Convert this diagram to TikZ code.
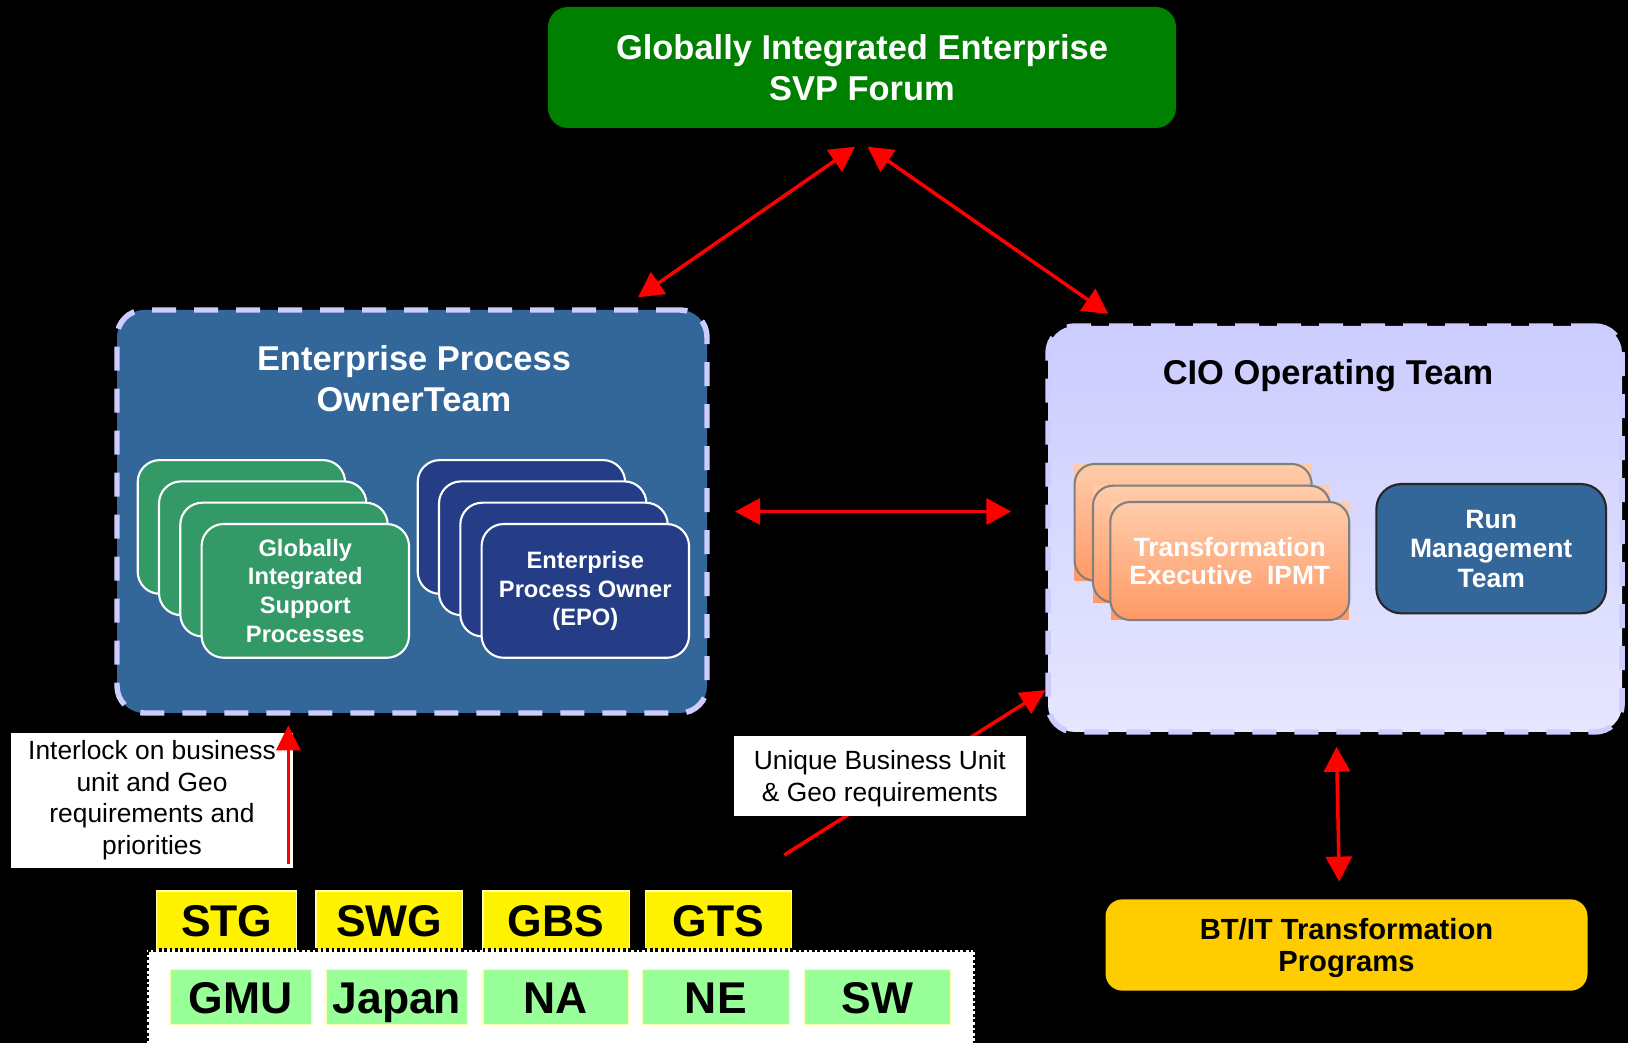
\documentclass[tikz,border=0pt]{standalone}
\usepackage{fontspec}
\setmainfont{Liberation Sans}
\usetikzlibrary{arrows.meta}

\definecolor{gieGreen}{RGB}{0,128,0}
\definecolor{steelBlue}{RGB}{51,102,153}
\definecolor{lavender}{RGB}{204,204,255}
\definecolor{lavenderPale}{RGB}{230,230,255}
\definecolor{cardGreen}{RGB}{51,153,102}
\definecolor{cardNavy}{RGB}{37,60,135}
\definecolor{peachTop}{RGB}{255,204,170}
\definecolor{peachBot}{RGB}{255,153,102}
\definecolor{gold}{RGB}{255,204,0}
\definecolor{mint}{RGB}{153,255,153}
\definecolor{paleYellow}{RGB}{255,255,170}

\tikzset{
  team/.style={rounded corners=0.27cm, draw=lavender, line width=1.56pt, dash pattern=on 0.24cm off 0.18cm, inner sep=0pt},
  heading/.style={font=\fontsize{9.8pt}{11.7pt}\selectfont\bfseries, align=center, inner sep=0pt},
  cardedge/.style={rounded corners=0.22cm, draw=white, line width=0.6pt},
  card/.style={cardedge, inner sep=0pt, minimum width=2.074cm, minimum height=1.337cm, text=white, align=center, font=\fontsize{6.75pt}{8.2pt}\selectfont\bfseries},
  peach/.style={top color=peachTop, bottom color=peachBot},
  peachline/.style={draw=gray, line width=0.6pt, rounded corners=0.2cm},
  link/.style={red, line width=1pt, {Triangle[length=0.25cm,width=0.26cm]}-{Triangle[length=0.25cm,width=0.26cm]}},
  onelink/.style={red, line width=1pt, -{Triangle[length=0.25cm,width=0.24cm]}},
  note/.style={fill=white, inner sep=0pt, align=center, font=\fontsize{7.5pt}{8.95pt}\selectfont},
  unit/.style={draw=paleYellow, line width=0.4pt, inner sep=0pt, minimum height=0.55cm, text height=0.325cm, text depth=0pt, font=\fontsize{12.65pt}{14pt}\selectfont\bfseries}
}

\begin{document}
\begin{tikzpicture}[x=1cm, y=-1cm]
    \clip (0,0) rectangle (16.28,10.43);
    \fill[black] (0,0) rectangle (16.28,10.43);

    % forum on top
    \node[fill=gieGreen, rounded corners=0.2cm, minimum width=6.28cm, minimum height=1.21cm, heading, text=white] (gie) at (8.62,0.675) {Globally Integrated Enterprise\\SVP Forum};

    % process owner team
    \node[team, fill=steelBlue, minimum width=5.90cm, minimum height=4.03cm] (ept) at (4.12,5.115) {};
    \node[heading, text=white] (eptTitle) at (4.14,3.785) {Enterprise Process\\OwnerTeam};

    \filldraw[cardedge, fill=cardGreen] (1.377,4.601) rectangle (3.451,5.938);
    \filldraw[cardedge, fill=cardGreen] (1.590,4.814) rectangle (3.664,6.151);
    \filldraw[cardedge, fill=cardGreen] (1.803,5.027) rectangle (3.877,6.364);
    \node[card, fill=cardGreen] (gisp) at (3.053,5.909) {Globally\\Integrated\\Support\\Processes};

    \filldraw[cardedge, fill=cardNavy] (4.177,4.601) rectangle (6.251,5.938);
    \filldraw[cardedge, fill=cardNavy] (4.390,4.814) rectangle (6.464,6.151);
    \filldraw[cardedge, fill=cardNavy] (4.603,5.027) rectangle (6.677,6.364);
    \node[card, fill=cardNavy] (epo) at (5.853,5.909) {Enterprise\\Process Owner\\(EPO)};

    % CIO team
    \node[team, top color=lavender, bottom color=lavenderPale, minimum width=5.74cm, minimum height=4.06cm] (cio) at (13.35,5.29) {};
    \node[heading, text=black] (cioTitle) at (13.28,3.753) {CIO Operating Team};

    \shade[peach] (10.746,4.640) rectangle (13.116,5.807);
    \draw[peachline] (10.746,4.640) rectangle (13.116,5.807);
    \shade[peach] (10.930,4.857) rectangle (13.300,6.023);
    \draw[peachline] (10.930,4.857) rectangle (13.300,6.023);
    \node[peach, minimum width=2.375cm, minimum height=1.166cm, inner sep=0pt, align=center, text=white, font=\fontsize{7.5pt}{7.9pt}\selectfont\bfseries] (tei) at (12.2975,5.61) {Transformation\\Executive\ \ IPMT};
    \draw[peachline] (tei.north west) rectangle (tei.south east);

    \node[fill=steelBlue, draw=black!85, line width=0.6pt, rounded corners=0.25cm, minimum width=2.297cm, minimum height=1.293cm, inner sep=0pt, align=center, text=white, text depth=-0.05cm, font=\fontsize{7.55pt}{8.45pt}\selectfont\bfseries] (rmt) at (14.912,5.487) {Run\\Management\\Team};

    \node[fill=gold, rounded corners=0.17cm, minimum width=4.82cm, minimum height=0.914cm, inner sep=0pt, align=center, text depth=0pt, font=\fontsize{8.3pt}{9.3pt}\selectfont\bfseries] (btit) at (13.465,9.45) {BT/IT Transformation\\Programs};

    % links
    \draw[link] ([shift={(-0.07,0.18)}]gie.south) -- ([shift={(2.26,-0.10)}]ept.north);
    \draw[link] ([shift={(0.055,0.18)}]gie.south) -- ([shift={(-2.267,-0.093)}]cio.north);
    \draw[link, shorten <=0.253cm, shorten >=0.34cm] (ept.east) -- (ept.east -| cio.west);
    \draw[link] ([shift={(0.015,0.12)}]cio.south) -- ([shift={(-0.072,-0.17)}]btit.north);

    \node[note, minimum width=2.82cm, minimum height=1.347cm] (ilk) at (1.52,8.003) {Interlock on business\\unit and Geo\\requirements and\\priorities};
    \coordinate (ilkFoot) at ([shift={(-0.054,-0.047)}]ilk.south east);
    \draw[onelink, shorten >=0.097cm] (ilkFoot) -- (ilkFoot |- ept.south);

    \coordinate (ubuFoot) at (7.843,8.55);
    \draw[onelink] (ubuFoot) -- ([shift={(0.003,-0.447)}]cio.south west);
    \node[note, text depth=0pt, minimum width=2.917cm, minimum height=0.797cm] (ubu) at (8.7985,7.7585) {Unique Business Unit\\\& Geo requirements};

    % business units and geos
    \node[unit, fill=yellow, minimum width=1.400cm, minimum height=0.59cm] (stg) at (2.267,9.205) {STG};
    \node[unit, fill=yellow, minimum width=1.463cm, minimum height=0.59cm] (swg) at (3.8915,9.205) {SWG};
    \node[unit, fill=yellow, minimum width=1.467cm, minimum height=0.59cm] (gbs) at (5.5615,9.205) {GBS};
    \node[unit, fill=yellow, minimum width=1.461cm, minimum height=0.59cm] (gts) at (7.1845,9.205) {GTS};

    \node[fill=white, draw=black, line width=1.1pt, dash pattern=on 0.027cm off 0.027cm, minimum width=8.28cm, minimum height=1.4cm, inner sep=0pt] (geo) at (5.61,10.203) {};

    \node[unit, fill=mint, minimum width=1.417cm] (gmu) at (2.4085,9.968) {GMU};
    \node[unit, fill=mint, minimum width=1.417cm] (jpn) at (3.9685,9.968) {Japan};
    \node[unit, fill=mint, minimum width=1.454cm] (na) at (5.555,9.968) {NA};
    \node[unit, fill=mint, minimum width=1.473cm] (ne) at (7.1585,9.968) {NE};
    \node[unit, fill=mint, minimum width=1.455cm] (sw) at (8.7745,9.968) {SW};
\end{tikzpicture}
\end{document}
